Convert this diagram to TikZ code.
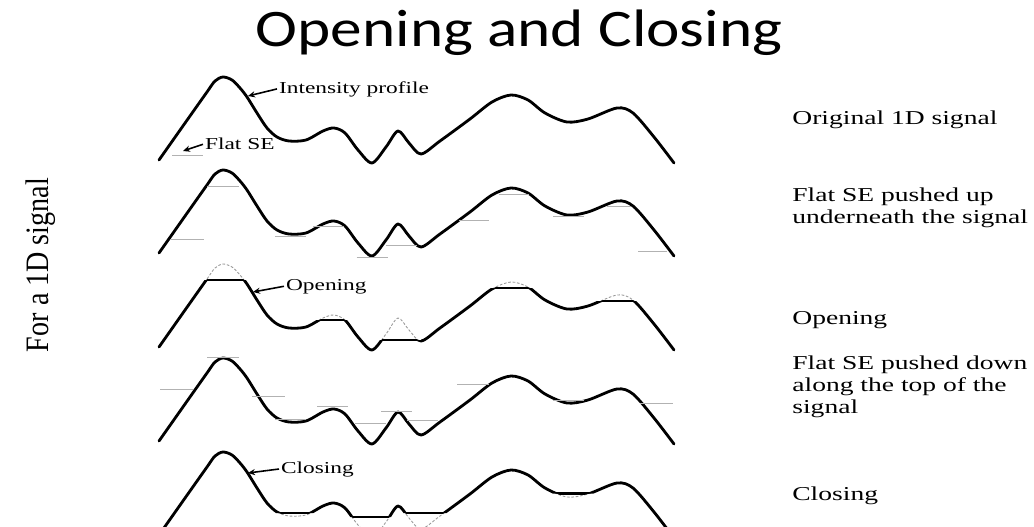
\documentclass[tikz,border=0pt]{standalone}
\usepackage{fontspec}
\usepackage{tikz}
\usetikzlibrary{arrows.meta}
\setmainfont{Liberation Serif}
\newfontfamily\titlefont[FakeStretch=1.2]{Carlito}
\newfontfamily\lblfont[FakeStretch=1.4]{Liberation Serif}
\newfontfamily\sidefont[FakeStretch=0.86]{Liberation Serif}
\tikzset{
sig/.style={
draw,
line width=1.6pt,
line join=round,
line cap=round
},
orig/.style={
draw=gray!80,
line width=0.5pt,
dash pattern=on 1.5pt off 1pt
},
se/.style={
draw=gray!60,
line width=0.5pt
},
inlbl/.style={
anchor=base west,
inner sep=1pt,
font=\lblfont\fontsize{9.5pt}{11pt}\selectfont
},
rlbl/.style={
anchor=base west,
align=left,
inner sep=0pt,
font=\lblfont\fontsize{11.2pt}{12.3pt}\selectfont
},
ptr/.style={
-{Stealth[length=4pt,width=3.5pt]},
line width=0.9pt
}
}
% the 1D test signal, in pixel units of one row
\newcommand{\sigline}{plot[smooth,tension=0.5] coordinates {(159,160) (190,116) (207,92) (215,81) (223,77) (232,80) (240,88) (247,97) (257,113) (267,128) (277,137) (289,141) (306,140) (323,131) (334,128) (345,133) (358,150) (372,163) (386,147) (398,131) (409,143) (421,154) (440,141) (470,119) (492,102) (511,95) (528,100) (545,113) (567,122) (588,119) (617,108) (633,113) (654,137) (674,163)}}

\begin{document}
\begin{tikzpicture}[x=0.02cm,y=-0.02cm]
\useasboundingbox (0,0) rectangle (1034,527);
\clip (0,0) rectangle (1034,527);
\node[font=\titlefont\fontsize{30pt}{36pt}\selectfont,anchor=base] (title) at (519,47) {Opening and Closing};
\node[font=\sidefont\fontsize{18.6pt}{22pt}\selectfont,rotate=90,anchor=base] (side) at (48,265) {For a 1D signal};

% original signal
\draw[sig] \sigline;
\draw[se] (172,155) -- (203,155);
\coordinate (sehead) at (183,151);
\coordinate (ihead) at (248,96);
\node[inlbl] (intens) at (277,93) {Intensity profile};
\node[inlbl] (flatse) at (203,150) {Flat SE};
\draw[ptr] (intens.west) -- (ihead);
\draw[ptr] (flatse.west) -- (sehead);

% SE pushed up
\begin{scope}[shift={(0,93)}]
\draw[sig] \sigline;
\foreach \a/\b/\h in {171/204/146,207/238.5/93,275/306/143.4,313/344/133.7,356.6/388/164,386/417/152,459/488.5/127.8,499/528.5/101.7,553/584/123,606.6/631/113,638/667/158}
\draw[se] (\a,\h) -- (\b,\h);
\end{scope}

% opening
\begin{scope}[shift={(0,187)}]
\draw[orig] \sigline;
\begin{scope}
\clip \foreach \a/\b/\h in {100/191/0,190/256/93,255/301/0,300/353/133,352/377/0,376/422/153,421/471/0,470/546/101,545/596/0,595/641/114,640/700/0} {(\a,\h) rectangle (\b,600)};
\draw[sig] \sigline;
\end{scope}
\begin{scope}
\clip \sigline -- (674,700) -- (159,700) -- cycle;
\foreach \a/\b/\h in {190/256/93,300/353/133,376/422/153,470/546/101,595/641/114}
\draw[sig] (\a,\h) -- (\b,\h);
\end{scope}
\coordinate (ohead) at (253,105);
\node[inlbl] (opening) at (284,103) {Opening};
\draw[ptr] (opening.west) -- (ohead);
\end{scope}

% SE pushed down
\begin{scope}[shift={(0,281)}]
\draw[sig] \sigline;
\foreach \a/\b/\h in {160/193/108,207/238.5/76,252/285/115,275/306/138,317/348/125,355/386/142.6,381/412/130,407/438/139,457/488.5/103,553/584/119,639.6/672.6/122}
\draw[se] (\a,\h) -- (\b,\h);
\end{scope}

% closing
\begin{scope}[shift={(0,375)}]
\draw[orig] \sigline;
\begin{scope}
\clip \foreach \a/\b/\h in {100/263/600,262/317/138,316/349/600,348/393/142,392/401/600,400/461/138,460/541/600,540/601/118.5,600/700/600} {(\a,0) rectangle (\b,\h)};
\draw[sig] \sigline;
\end{scope}
\begin{scope}
\clip \sigline -- (674,0) -- (159,0) -- cycle;
\foreach \a/\b/\h in {262/317/138,348/393/142,400/461/138,540/601/118.5}
\draw[sig] (\a,\h) -- (\b,\h);
\end{scope}
\coordinate (chead) at (248,98);
\node[inlbl] (closing) at (279,98) {Closing};
\draw[ptr] (closing.west) -- (chead);
\end{scope}

% captions
\node[rlbl] (orig) at (792,125) {Original 1D signal};
\node[rlbl] (pushup) at (792,223) {Flat SE pushed up\\underneath the signal};
\node[rlbl] (open) at (792,324) {Opening};
\node[rlbl] (pushdown) at (792,413) {Flat SE pushed down\\along the top of the\\signal};
\node[rlbl] (close) at (792,500) {Closing};
\end{tikzpicture}
\end{document}
